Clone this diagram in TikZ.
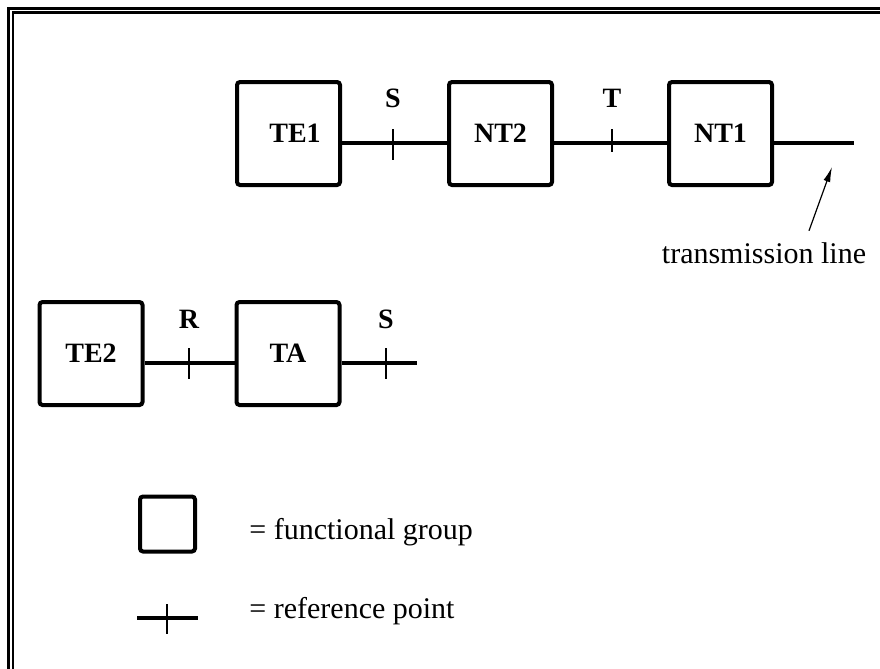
\documentclass[tikz,border=0pt]{standalone}
\usepackage{fontspec}
\setmainfont{Liberation Serif}
\usetikzlibrary{arrows.meta, positioning}

\begin{document}
\begin{tikzpicture}[x=0.5pt, y=-0.5pt,
fgroup/.style={
    rectangle,
    draw,
    line width=2pt,
    rounded corners=1.5pt,
    minimum width=51.5pt,
    minimum height=51.5pt,
    font=\fontsize{14}{16}\selectfont\bfseries
},
wire/.style={line width=2pt},
refmark/.style={line width=0.7pt},
pointname/.style={font=\fontsize{14}{16}\selectfont\bfseries, inner sep=1pt},
note/.style={font=\fontsize{15}{18}\selectfont, inner sep=1pt},
>={Latex[length=7.5pt, width=3.5pt]}]

  \useasboundingbox (0,0) rectangle (880,669);

  % double frame
  \draw[line width=1.5pt] (8.7,690) -- (8.7,8) -- (900,8);
  \draw[line width=1.1pt] (13.3,690) -- (13.3,12.5) -- (900,12.5);

  % top chain
  \node[fgroup] (te1) at (288.5,133.5) {\hspace*{6.5pt}TE1};
  \node[fgroup, right=52.5pt of te1] (nt2) {NT2};
  \node[fgroup, right=56.5pt of nt2] (nt1) {NT1};

  \coordinate (s1) at (393,143);
  \coordinate (t1) at (612,143);
  \coordinate (lineend) at (854,143);

  \draw[wire] (te1.east |- s1) -- (nt2.west |- s1);
  \draw[wire] (nt2.east |- t1) -- (nt1.west |- t1);
  \draw[wire] (nt1.east |- lineend) -- (lineend);

  \draw[refmark] ([yshift=7pt]s1) -- ([yshift=-8.5pt]s1);
  \draw[refmark] ([yshift=7pt]t1) -- ([yshift=-4.5pt]t1);

  \node[pointname, above=16.5pt of s1] (sname1) {S};
  \node[pointname, above=16.5pt of t1] (tname) {T};

  \node[note, anchor=base] (tline) at (764,263) {transmission line};
  \coordinate (tip) at (832,167);
  \draw[->, line width=0.6pt] ([xshift=22.5pt, yshift=4.5pt]tline.north) -- (tip);

  % second chain
  \node[fgroup] (te2) at (91,353.5) {TE2};
  \node[fgroup, right=45pt of te2] (ta) {TA};

  \coordinate (r2) at (189,363);
  \coordinate (s2) at (386,363);
  \coordinate (s2end) at (417,363);

  \draw[wire] (te2.east |- r2) -- (ta.west |- r2);
  \draw[wire] (ta.east |- s2) -- (s2end);

  \draw[refmark] ([yshift=7.5pt]r2) -- ([yshift=-8pt]r2);
  \draw[refmark] ([yshift=7.5pt]s2) -- ([yshift=-8pt]s2);

  \node[pointname, above=16pt of r2] (rname) {R};
  \node[pointname, above=16pt of s2] (sname2) {S};

  % legend
  \node[fgroup, minimum width=27.5pt, minimum height=27.5pt] (key) at (167.5,524) {};
  \node[note, anchor=base west] (keytext) at (247,539) {= functional group};

  \coordinate (keyl) at (137,618);
  \coordinate (keyr) at (198,618);
  \coordinate (keym) at (167,618);
  \draw[wire] (keyl) -- (keyr);
  \draw[refmark] ([yshift=7pt]keym) -- ([yshift=-8pt]keym);
  \node[note, anchor=base west] (reftext) at (247,618) {= reference point};

\end{tikzpicture}
\end{document}
